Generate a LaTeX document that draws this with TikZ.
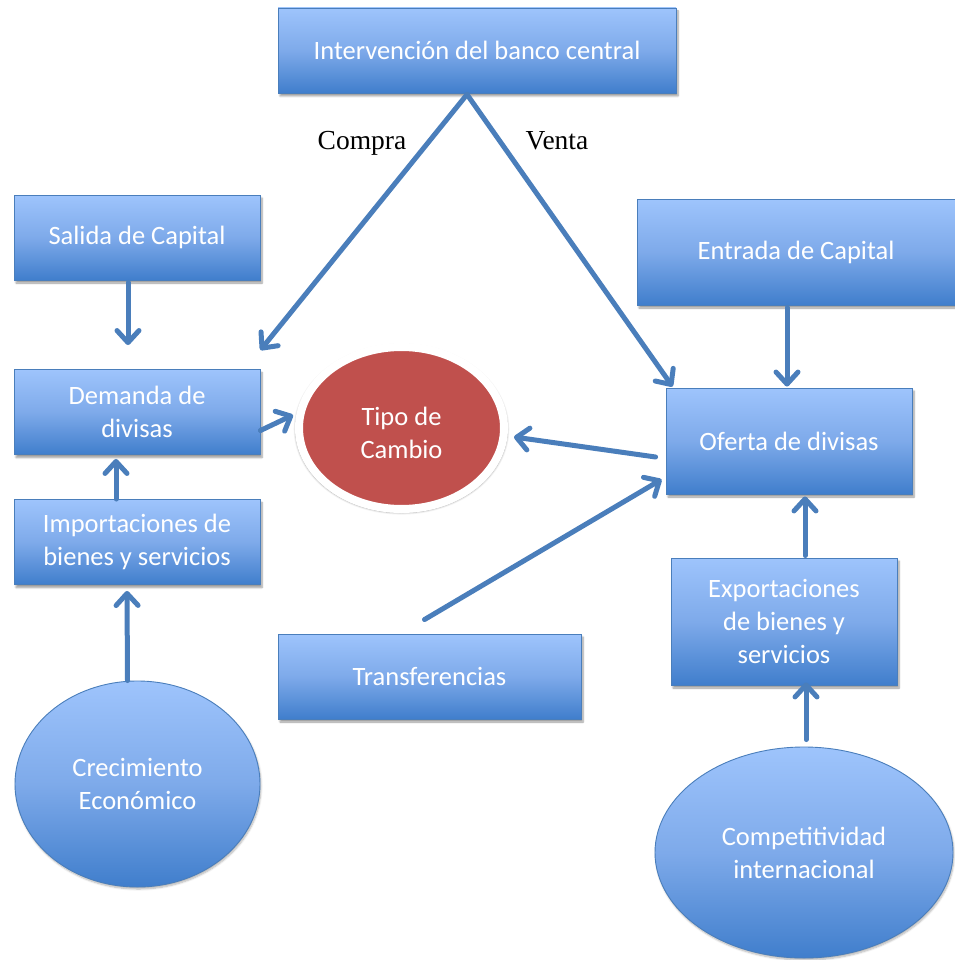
\documentclass[tikz,border=0pt]{standalone}
\usepackage{fontspec}
\setmainfont{Carlito}
\newfontfamily\serifx{Liberation Serif}
\usetikzlibrary{arrows.meta,calc,shapes.geometric,shadows.blur}
\definecolor{btop}{RGB}{158,196,252}
\definecolor{bmid}{RGB}{126,170,234}
\definecolor{bbot}{RGB}{64,126,204}
\definecolor{bline}{RGB}{74,126,187}
\definecolor{tred}{RGB}{192,80,77}
\begin{document}
\begin{tikzpicture}[x=1pt,y=-1pt,
  bx/.style={rectangle, draw=bline, line width=0.9pt, top color=btop, bottom color=bbot, middle color=bmid,
    text=white, font=\fontsize{26.5}{33}\selectfont, align=center, inner sep=0pt,
    blur shadow={shadow xshift=2pt, shadow yshift=-3pt, shadow blur steps=6, shadow opacity=40}},
  el/.style={ellipse, draw=bline, line width=0.9pt, top color=btop, bottom color=bbot, middle color=bmid,
    text=white, font=\fontsize{26.5}{33}\selectfont, align=center, inner sep=0pt,
    blur shadow={shadow xshift=1pt, shadow yshift=-2pt, shadow blur steps=6, shadow opacity=30}},
  conn/.style={draw=bline, line width=5pt, line cap=round, -{Straight Barb[length=12pt, width=22pt, round]}},
  lbl/.style={font=\serifx\fontsize{27.5}{32}\selectfont, text=black, inner sep=0pt, anchor=base}
]
\useasboundingbox (0,0) rectangle (954,960);

\node[bx, minimum width=398, minimum height=85] (intv) at (477,50.5) {Intervención del banco central};
\node[bx, minimum width=246, minimum height=85] (sal) at (137,237.5) {Salida de Capital};
\node[bx, minimum width=246, minimum height=85] (dem) at (137,412) {Demanda de\\divisas};
\node[bx, minimum width=246, minimum height=85] (imp) at (137,542) {Importaciones de\\bienes y servicios};
\node[el, minimum width=245, minimum height=206] (crec) at (137.5,784) {Crecimiento\\Económico};
\node[ellipse, fill=tred, draw=white, line width=8pt, minimum width=205, minimum height=162, inner sep=0pt,
  blur shadow={shadow xshift=0pt, shadow yshift=-1pt, shadow blur steps=8, shadow opacity=35, shadow scale=1.035}]
  (tipo) at (401.5,428) {};
\node[text=white, font=\fontsize{26.5}{33}\selectfont, align=center, inner sep=0pt] (tipotxt)
  at ($(tipo.center)+(0,5)$) {Tipo de\\Cambio};
\node[bx, minimum width=318, minimum height=106] (ent) at (796,252) {Entrada de Capital};
\node[bx, minimum width=246, minimum height=106] (of) at (789,441) {Oferta de divisas};
\node[bx, minimum width=226, minimum height=127] (exp) at (784,621.5) {Exportaciones\\de bienes y\\servicios};
\node[el, minimum width=298, minimum height=211] (comp) at (804,852.5) {Competitividad\\internacional};
\node[bx, minimum width=303, minimum height=85] (tr) at (429.5,676.5) {Transferencias};

\node[lbl] (compra) at (362,150) {Compra};
\node[lbl] (venta) at (557,150) {Venta};

\draw[conn] ($(intv.south)+(-10,1)$) -- ($(dem.north east)+(0,-19)$);
\draw[conn] ($(intv.south)+(-10,1)$) -- ($(of.north west)+(7,-1)$);
\draw[conn] ($(sal.south)+(-9,2)$) -- ($(dem.north)+(-9,-24)$);
\draw[conn] ($(imp.north)+(-21,0)$) -- ($(dem.south)+(-21,4)$);
\draw[conn] ($(crec.north)+(-10,0)$) -- ($(imp.south)+(-10,6)$);
\draw[conn] ($(dem.east)+(0,18.5)$) -- ($(tipo.west)+(-2,-13)$);
\draw[conn] ($(of.west)+(-10,16)$) -- ($(tipo.east)+(6,9)$);
\draw[conn] ($(tr.north)+(-5,-14)$) -- ($(of.south west)+(-4,-15)$);
\draw[conn] ($(ent.south)+(-9,2)$) -- ($(of.north)+(-2,-1)$);
\draw[conn] ($(exp.north)+(21,-2)$) -- ($(of.south)+(16,2)$);
\draw[conn] ($(comp.north)+(2,-7)$) -- ($(exp.south)+(22,-3)$);
\end{tikzpicture}
\end{document}
